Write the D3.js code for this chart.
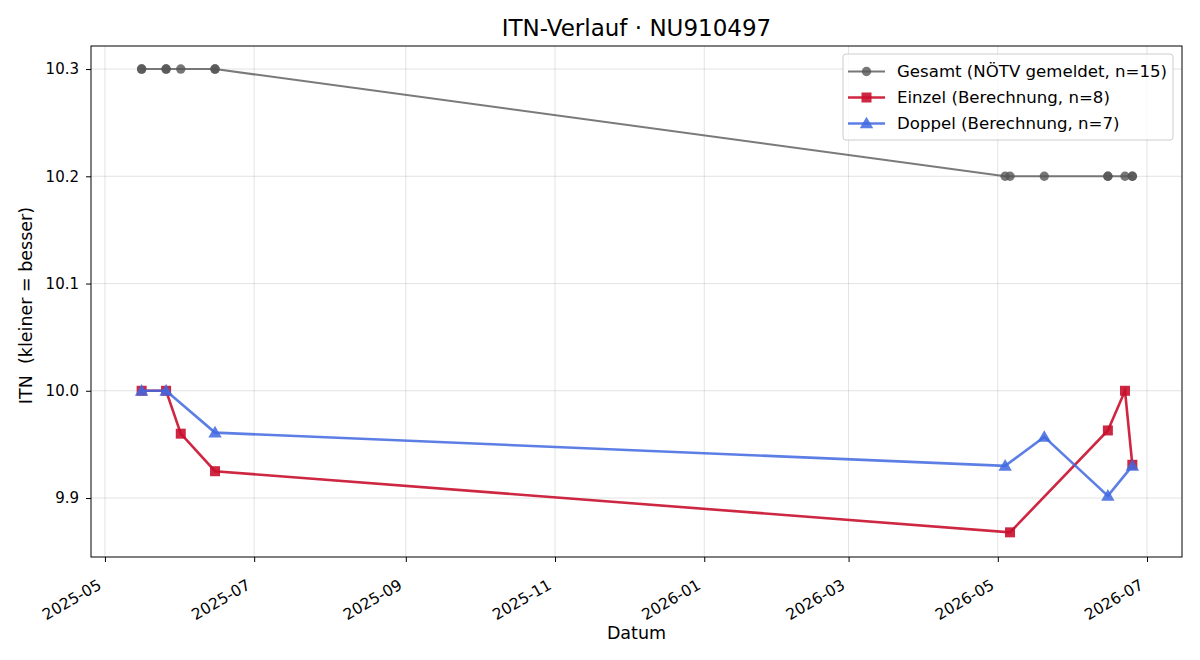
<!DOCTYPE html>
<html>
<head>
<meta charset="utf-8">
<script src="https://cdn.jsdelivr.net/npm/d3@7"></script>
<style>
  body { margin: 0; background: #fff; }
  svg text { font-family: "DejaVu Sans", sans-serif; fill: #000; }
</style>
</head>
<body>
<div id="chart"></div>
<script>
// Gesamt (NÖTV gemeldet) – 15 entries, several on the same day
const gesamtDates = ["2025-05-16", "2025-05-16", "2025-05-26", "2025-05-26", "2025-06-01", "2025-06-15", "2025-06-15",
                     "2026-05-04", "2026-05-06", "2026-05-20", "2026-06-15", "2026-06-15", "2026-06-22", "2026-06-25", "2026-06-25"];
const gesamtValues = [10.3, 10.3, 10.3, 10.3, 10.3, 10.3, 10.3,
                      10.2, 10.2, 10.2, 10.2, 10.2, 10.2, 10.2, 10.2];

// Einzel (Berechnung)
const einzelDates = ["2025-05-16", "2025-05-26", "2025-06-01", "2025-06-15", "2026-05-06", "2026-06-15", "2026-06-22", "2026-06-25"];
const einzelValues = [10.0, 10.0, 9.960, 9.925, 9.868, 9.963, 10.0, 9.931];

// Doppel (Berechnung)
const doppelDates = ["2025-05-16", "2025-05-26", "2025-06-15", "2026-05-04", "2026-05-20", "2026-06-15", "2026-06-25"];
const doppelValues = [10.0, 10.0, 9.961, 9.930, 9.957, 9.902, 9.930];

const yTicks = [9.9, 10.0, 10.1, 10.2, 10.3];
const xTickLabels = ["2025-05", "2025-07", "2025-09", "2025-11", "2026-01", "2026-03", "2026-05", "2026-07"];

const W = 1200, H = 660;
const margin = {top: 46, right: 18, bottom: 103, left: 91};
const width = W - margin.left - margin.right;
const height = H - margin.top - margin.bottom;

const parse = d3.utcParse("%Y-%m-%d");
const parseMonth = d3.utcParse("%Y-%m");
const day = 24 * 3600 * 1000;

const svg = d3.select("#chart").append("svg")
    .attr("width", W)
    .attr("height", H);

const g = svg.append("g")
    .attr("transform", `translate(${margin.left},${margin.top})`);

const x = d3.scaleUtc()
    .domain([new Date(parse("2025-05-01").getTime() - 5.7 * day), new Date(parse("2025-05-01").getTime() + 440.3 * day)])
    .range([0, width]);

const y = d3.scaleLinear()
    .domain([9.845, 10.3215])
    .range([height, 0]);

const xTicks = xTickLabels.map(parseMonth);

// grid
g.append("g").selectAll("line.vx")
    .data(xTicks).enter().append("line")
    .attr("x1", d => x(d)).attr("x2", d => x(d))
    .attr("y1", 0).attr("y2", height)
    .attr("stroke", "#b0b0b0").attr("stroke-opacity", 0.35).attr("stroke-width", 1);

g.append("g").selectAll("line.hy")
    .data(yTicks).enter().append("line")
    .attr("x1", 0).attr("x2", width)
    .attr("y1", d => y(d)).attr("y2", d => y(d))
    .attr("stroke", "#b0b0b0").attr("stroke-opacity", 0.35).attr("stroke-width", 1);

// axes
const xAxis = g.append("g")
    .attr("transform", `translate(0,${height})`)
    .call(d3.axisBottom(x).tickValues(xTicks).tickFormat(d3.utcFormat("%Y-%m")).tickSize(5));
xAxis.selectAll("text")
    .style("font-size", "15.5px")
    .attr("text-anchor", "end")
    .attr("x", 0).attr("y", 0).attr("dy", 0)
    .attr("transform", "translate(-3,31) rotate(-30)");

const yAxis = g.append("g")
    .call(d3.axisLeft(y).tickValues(yTicks).tickFormat(d3.format(".1f")).tickSize(5).tickPadding(7));
yAxis.selectAll("text").style("font-size", "15px");

[xAxis, yAxis].forEach(a => {
    a.select(".domain").remove();
    a.selectAll("line").attr("stroke", "#000").attr("stroke-width", 1);
});

g.append("rect")
    .attr("width", width).attr("height", height)
    .attr("fill", "none").attr("stroke", "#000").attr("stroke-width", 1);

// series
function zip(dates, values) {
    return dates.map((d, i) => ({date: parse(d), value: values[i]}));
}
const gesamt = zip(gesamtDates, gesamtValues);
const einzel = zip(einzelDates, einzelValues);
const doppel = zip(doppelDates, doppelValues);

const line = d3.line().x(d => x(d.date)).y(d => y(d.value));

// Gesamt
const grey = "#555";
g.append("path").datum(gesamt)
    .attr("d", line).attr("fill", "none")
    .attr("stroke", grey).attr("stroke-opacity", 0.78).attr("stroke-width", 2);
g.append("g").selectAll("circle")
    .data(gesamt).enter().append("circle")
    .attr("cx", d => x(d.date)).attr("cy", d => y(d.value)).attr("r", 4.7)
    .attr("fill", grey).attr("fill-opacity", 0.8);

// Einzel
const red = "#c8102e";
g.append("path").datum(einzel)
    .attr("d", line).attr("fill", "none")
    .attr("stroke", red).attr("stroke-opacity", 0.9).attr("stroke-width", 2.6);
g.append("g").selectAll("rect")
    .data(einzel).enter().append("rect")
    .attr("x", d => x(d.date) - 5).attr("y", d => y(d.value) - 5)
    .attr("width", 10).attr("height", 10)
    .attr("fill", red).attr("fill-opacity", 0.9);

// Doppel
const blue = "#4169e1";
const tri = d3.symbol().type(d3.symbolTriangle).size(78);
g.append("path").datum(doppel)
    .attr("d", line).attr("fill", "none")
    .attr("stroke", blue).attr("stroke-opacity", 0.85).attr("stroke-width", 2.6);
g.append("g").selectAll("path")
    .data(doppel).enter().append("path")
    .attr("d", tri)
    .attr("transform", d => `translate(${x(d.date)},${y(d.value) + 1})`)
    .attr("fill", blue).attr("fill-opacity", 0.85);

// legend
const legendData = [
    {label: "Gesamt (NÖTV gemeldet, n=15)", color: grey, op: 0.8, w: 2, marker: "circle"},
    {label: "Einzel (Berechnung, n=8)", color: red, op: 0.9, w: 2.6, marker: "square"},
    {label: "Doppel (Berechnung, n=7)", color: blue, op: 0.85, w: 2.6, marker: "triangle"}
];
const lg = g.append("g").attr("transform", `translate(${width - 339},8)`);
lg.append("rect")
    .attr("width", 330).attr("height", 86).attr("rx", 3)
    .attr("fill", "#fff").attr("fill-opacity", 0.8)
    .attr("stroke", "#ccc").attr("stroke-width", 1);
const items = lg.selectAll("g.item")
    .data(legendData).enter().append("g")
    .attr("transform", (d, i) => `translate(5,${17.5 + i * 26})`);
items.append("line")
    .attr("x1", 0).attr("x2", 37)
    .attr("stroke", d => d.color).attr("stroke-opacity", d => d.op).attr("stroke-width", d => d.w);
items.each(function(d) {
    const s = d3.select(this);
    if (d.marker === "circle") {
        s.append("circle").attr("cx", 18.5).attr("r", 4.7).attr("fill", d.color).attr("fill-opacity", d.op);
    } else if (d.marker === "square") {
        s.append("rect").attr("x", 13.5).attr("y", -5).attr("width", 10).attr("height", 10)
            .attr("fill", d.color).attr("fill-opacity", d.op);
    } else {
        s.append("path").attr("d", tri).attr("transform", "translate(18.5,1)")
            .attr("fill", d.color).attr("fill-opacity", d.op);
    }
});
items.append("text")
    .attr("x", 49).attr("dy", "0.35em")
    .style("font-size", "16.6px")
    .text(d => d.label);

// titles
svg.append("text")
    .attr("x", margin.left + width / 2).attr("y", 36)
    .attr("text-anchor", "middle")
    .style("font-size", "23px")
    .text("ITN-Verlauf · NU910497");

svg.append("text")
    .attr("x", margin.left + width / 2).attr("y", 639)
    .attr("text-anchor", "middle")
    .style("font-size", "17.5px")
    .text("Datum");

svg.append("text")
    .attr("transform", `translate(32,${margin.top + height / 2 + 4}) rotate(-90)`)
    .attr("text-anchor", "middle")
    .style("font-size", "17.5px")
    .style("white-space", "pre")
    .text("ITN  (kleiner = besser)");
</script>
</body>
</html>
